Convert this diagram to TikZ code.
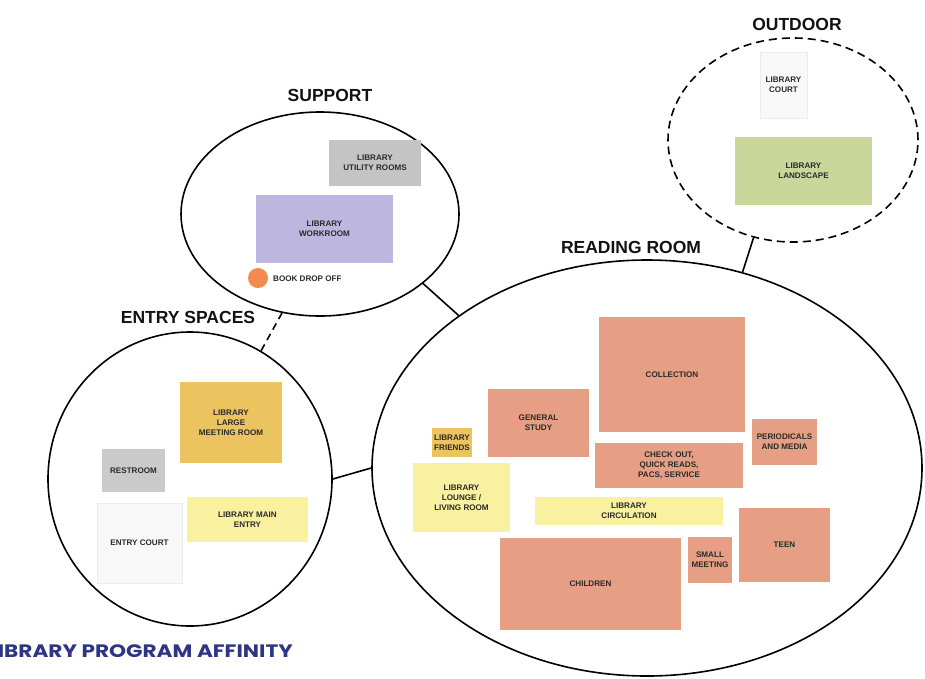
\documentclass[tikz,border=0pt]{standalone}
\usepackage{fontspec}
\setmainfont{Liberation Sans}
\newfontfamily\progfont{Poppins}
\usetikzlibrary{shapes.geometric}
\definecolor{salmon}{HTML}{E69F84}
\definecolor{gold}{HTML}{EBC35F}
\definecolor{lyellow}{HTML}{F9F0A0}
\definecolor{lgray}{HTML}{C4C4C4}
\definecolor{lavender}{HTML}{BDB7E0}
\definecolor{lgreen}{HTML}{C9D79B}
\definecolor{offwhite}{HTML}{F8F8F8}
\definecolor{offline}{HTML}{ECECEC}
\definecolor{dropc}{HTML}{F28C4E}
\definecolor{navy}{HTML}{2E3585}
\definecolor{labtxt}{HTML}{2A2A2A}
\begin{document}
\begin{tikzpicture}[x=1pt,y=-1pt,
  zone/.style={draw=black, line width=1.6pt, ellipse, inner sep=0pt},
  dzone/.style={zone, dash pattern=on 8pt off 5pt},
  room/.style={inner sep=0pt, align=center, text=labtxt,
    font=\fontsize{8.1}{9.8}\selectfont\bfseries},
  ttl/.style={inner sep=0pt, text=black!93,
    font=\fontsize{17.5}{20}\selectfont\bfseries},
  conn/.style={draw=black, line width=1.6pt},
  dconn/.style={conn, dash pattern=on 7pt off 5pt}]
\useasboundingbox (0,0) rectangle (925,678);

% zones
\node[zone, minimum width=278, minimum height=204] (sup) at (320,214) {};
\node[dzone, minimum width=250, minimum height=204] (out) at (793,140) {};
\node[zone, minimum width=284, minimum height=294] (ent) at (190,479) {};
\node[zone, minimum width=550, minimum height=416] (read) at (647,468) {};

% titles
\node[ttl] (tsup) at (330,95) {SUPPORT};
\node[ttl] (tout) at (797,24) {OUTDOOR};
\node[ttl] (tent) at (188,317) {ENTRY SPACES};
\node[ttl] (tread) at (631,247) {READING ROOM};

% connectors
\draw[conn] (sup.-34) -- (read.141);
\draw[conn] (out.-112) -- (read.64);
\draw[dconn] (sup.-111) -- (ent.61);
\draw[conn] (ent.0) -- (read.180);

% support
\node[room, fill=lgray, minimum width=92, minimum height=46] (util) at (375,163) {LIBRARY\\UTILITY ROOMS};
\node[room, fill=lavender, minimum width=137, minimum height=68] (work) at (324.5,229) {LIBRARY\\WORKROOM};
\node[circle, fill=dropc, minimum size=20, inner sep=0pt] (drop) at (258,278) {};
\node[room, anchor=west] (droplab) at (273,279) {BOOK DROP OFF};

% outdoor
\node[room, fill=offwhite, draw=offline, minimum width=47, minimum height=66] (court) at (783.5,85) {LIBRARY\\COURT};
\node[room, fill=lgreen, minimum width=137, minimum height=68] (land) at (803.5,171) {LIBRARY\\LANDSCAPE};

% entry
\node[room, fill=gold, minimum width=102, minimum height=81] (meet) at (231,422.5) {LIBRARY\\LARGE\\MEETING ROOM};
\node[room, fill=lgray!90!white, minimum width=63, minimum height=43] (rest) at (133.5,470.5) {RESTROOM};
\node[room, fill=lyellow, minimum width=121, minimum height=45] (mainent) at (247.5,519.5) {LIBRARY MAIN\\ENTRY};
\node[room, fill=offwhite, draw=offline, minimum width=85, minimum height=80] (ecourt) at (139.5,543) {ENTRY COURT};

% reading room
\node[room, fill=salmon, minimum width=146, minimum height=115] (coll) at (672,374.5) {COLLECTION};
\node[room, fill=salmon, minimum width=101, minimum height=68] (study) at (538.5,423) {GENERAL\\STUDY};
\node[room, fill=gold, minimum width=40, minimum height=29] (friends) at (452,442.5) {LIBRARY\\FRIENDS};
\node[room, fill=salmon, minimum width=148, minimum height=45] (check) at (669,465.5) {CHECK OUT,\\QUICK READS,\\PACS, SERVICE};
\node[room, fill=salmon, minimum width=65, minimum height=46] (period) at (784.5,442) {PERIODICALS\\AND MEDIA};
\node[room, fill=lyellow, minimum width=97, minimum height=69] (lounge) at (461.5,497.5) {LIBRARY\\LOUNGE /\\LIVING ROOM};
\node[room, fill=lyellow, minimum width=188, minimum height=28] (circ) at (629,511) {LIBRARY\\CIRCULATION};
\node[room, fill=salmon, minimum width=181, minimum height=92] (child) at (590.5,584) {CHILDREN};
\node[room, fill=salmon, minimum width=44, minimum height=46] (small) at (710,560) {SMALL\\MEETING};
\node[room, fill=salmon, minimum width=91, minimum height=74] (teen) at (784.5,545) {TEEN};

% caption
\node[anchor=base east, inner sep=0pt, text=navy,
  font=\progfont\bfseries\fontsize{18}{20}\selectfont] (prog) at (293,657) {\scalebox{1.2}[1]{LIBRARY PROGRAM AFFINITY}};
\end{tikzpicture}
\end{document}
